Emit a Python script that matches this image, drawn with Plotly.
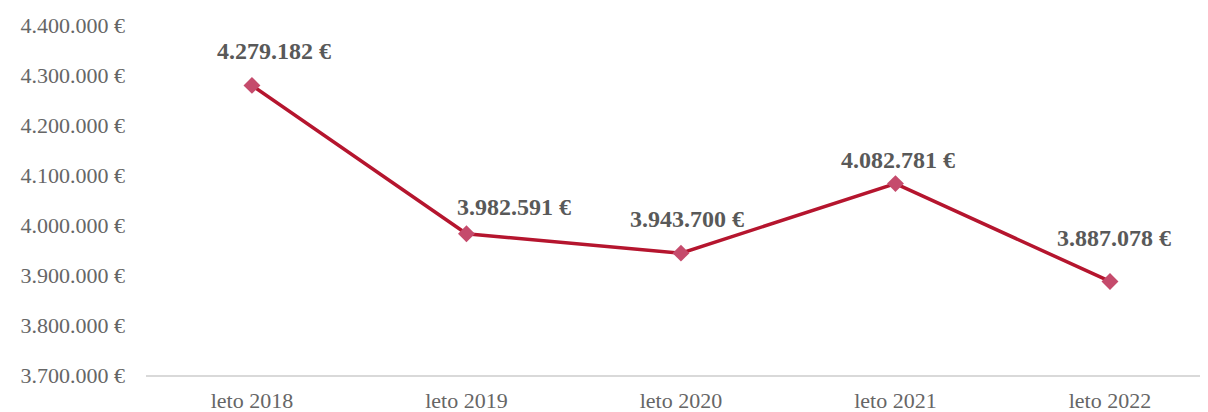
import plotly.graph_objects as go

categories = ["leto 2018", "leto 2019", "leto 2020", "leto 2021", "leto 2022"]
values = [4279182, 3982591, 3943700, 4082781, 3887078]
tick_values = [3700000, 3800000, 3900000, 4000000, 4100000, 4200000, 4300000, 4400000]


def fmt(v):
    return f"{v:,}".replace(",", ".") + " €"


tick_text = [fmt(v) for v in tick_values]
label_text = [fmt(v) for v in values]

FONT = "Liberation Serif"

fig = go.Figure()
fig.add_trace(go.Scatter(
    x=categories, y=values, mode="lines+markers",
    line=dict(color="#B5152E", width=3.5),
    marker=dict(symbol="diamond", size=13, color="#C54B6C"),
    hoverinfo="skip", showlegend=False,
))

xshift = [22, 48, 6, 3, 4]
yshift = [34, 27, 34, 24, 43]
for c, v, t, dx, dy in zip(categories, values, label_text, xshift, yshift):
    fig.add_annotation(x=c, y=v, text=f"<b>{t}</b>", showarrow=False,
                       xshift=dx, yshift=dy,
                       font=dict(family=FONT, size=24, color="#595959"))

# page body has an 8px default margin, so the figure is 8px smaller
fig.update_layout(
    width=1200, height=404,
    margin=dict(l=138, r=3, t=17, b=37, autoexpand=False),
    paper_bgcolor="white", plot_bgcolor="white",
    font=dict(family=FONT, size=22, color="#595959"),
)
fig.update_xaxes(type="category", range=[-0.494, 4.443], automargin=False,
                 showline=True, linecolor="#D9D9D9", linewidth=1.5,
                 showgrid=False, zeroline=False, ticks="",
                 ticklabelstandoff=5,
                 tickfont=dict(family=FONT, size=22, color="#666666"))
fig.update_yaxes(range=[3700000, 4400000], tickvals=tick_values, ticktext=tick_text,
                 automargin=False,
                 showgrid=False, zeroline=False, showline=False, ticks="",
                 ticklabelstandoff=20,
                 tickfont=dict(family=FONT, size=22, color="#666666"))

fig.write_html("out.html")
